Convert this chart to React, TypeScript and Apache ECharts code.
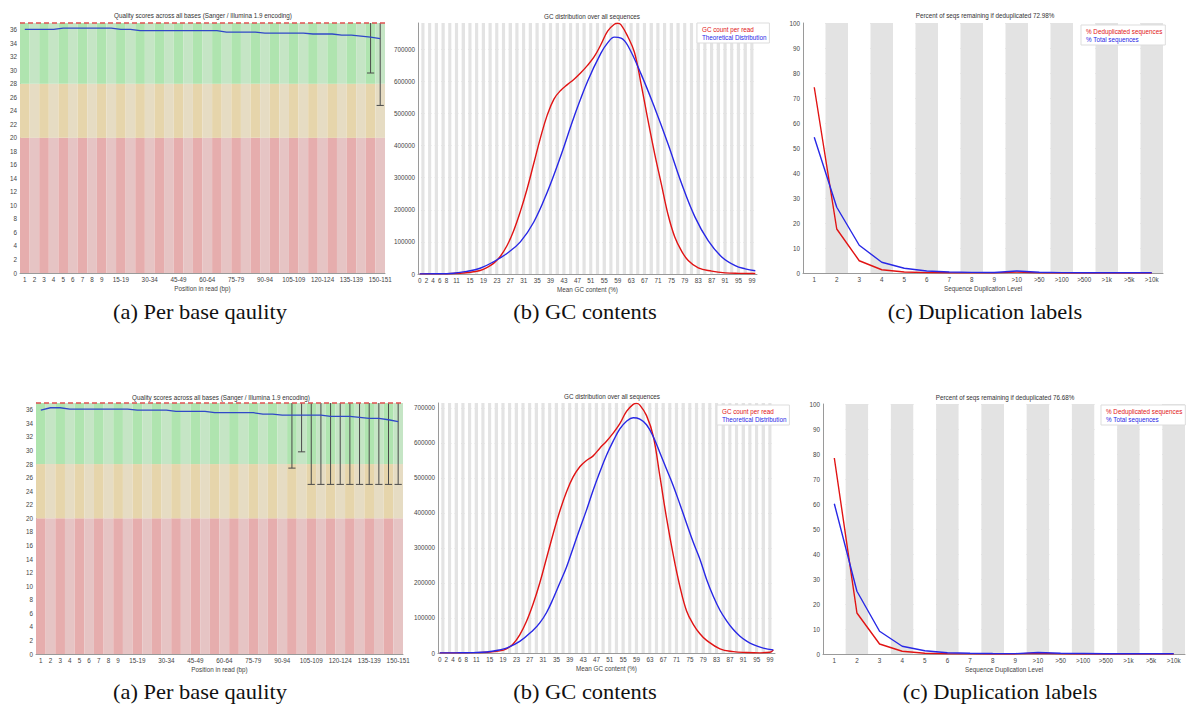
import React, { useEffect, useRef } from 'react';
import * as echarts from 'echarts';

// ---------- DATA ----------
const QUAL_CATS = ['1','2','3','4','5','6','7','8','9','10-14','15-19','20-24','25-29','30-34','35-39','40-44','45-49','50-54','55-59','60-64','65-69','70-74','75-79','80-84','85-89','90-94','95-99','100-104','105-109','110-114','115-119','120-124','125-129','130-134','135-139','140-144','145-149','150-151'];
const QUAL_ZONES = [20, 28, 37]; // red up to 20, orange up to 28, green up to 37

const Q1_MEAN = [36.05,36.05,36.05,36.05,36.25,36.25,36.25,36.25,36.25,36.25,36.05,36.05,35.86,35.86,35.86,35.86,35.86,35.86,35.86,35.86,35.86,35.66,35.66,35.66,35.66,35.51,35.51,35.51,35.51,35.51,35.37,35.37,35.37,35.22,35.22,35.07,34.92,34.68];
const Q1_WHISKERS = [[36, 29.6, 37], [37, 24.8, 37]];

const Q2_MEAN = [35.96,36.3,36.3,36.1,36.1,36.1,36.1,36.1,36.1,36.1,35.96,35.96,35.96,35.96,35.76,35.76,35.76,35.76,35.57,35.57,35.57,35.57,35.57,35.37,35.37,35.22,35.22,35.22,35.22,35.22,35.02,35.02,35.02,34.88,34.73,34.73,34.53,34.24];
const Q2_WHISKERS = [[26, 27.4, 37], [27, 29.8, 37], [28, 25, 37], [29, 25, 37], [30, 25, 37], [31, 25, 37], [32, 25, 37], [33, 25, 37], [34, 25, 37], [35, 25, 37], [36, 25, 37], [37, 25, 37]];

const GC_CATS = Array.from({ length: 101 }, (_, i) => String(i));
const GC1_COUNT = [[0,500],[5,800],[10,1500],[14,4000],[16,7000],[18,11000],[20,20000],[22,33000],[24,55000],[26,88000],[28,135000],[30,195000],[32,265000],[34,345000],[36,425000],[38,495000],[40,545000],[42,572000],[44,590000],[46,607000],[48,627000],[50,650000],[52,677000],[54,715000],[56,757000],[58,778000],[59,781000],[60,776000],[62,740000],[64,690000],[66,590000],[68,480000],[70,375000],[72,280000],[74,185000],[76,115000],[78,72000],[80,42000],[83,19000],[87,9000],[91,3600],[95,2000],[100,1500]];
const GC1_THEO = [[0,300],[5,600],[10,2500],[14,8000],[18,18000],[22,38000],[26,64000],[30,100000],[34,162000],[38,255000],[42,367000],[46,490000],[50,600000],[54,688000],[56,720000],[58,738000],[60,735000],[62,712000],[66,622000],[70,518000],[74,405000],[78,283000],[82,178000],[86,103000],[90,53000],[94,26000],[97,16000],[100,10000]];
const GC2_COUNT = [[0,300],[5,500],[10,1000],[14,2000],[18,6000],[20,12000],[22,26000],[24,52000],[26,90000],[28,140000],[30,200000],[32,270000],[34,340000],[36,405000],[38,460000],[40,503000],[42,532000],[44,550000],[46,563000],[48,585000],[50,605000],[52,628000],[54,655000],[56,690000],[58,710000],[59,713000],[60,708000],[62,678000],[64,620000],[66,505000],[68,385000],[70,280000],[72,190000],[74,120000],[76,82000],[78,55000],[80,36000],[84,12000],[88,4000],[92,1500],[96,500],[99,2000],[100,9000]];
const GC2_THEO = [[0,300],[5,500],[10,1200],[14,3000],[18,9000],[20,14000],[24,33000],[28,65000],[30,86000],[32,115000],[34,155000],[36,200000],[38,245000],[40,300000],[42,355000],[44,408000],[46,465000],[48,517000],[50,565000],[52,605000],[54,640000],[56,662000],[58,672000],[60,668000],[62,652000],[64,618000],[66,572000],[68,525000],[70,478000],[72,425000],[74,370000],[76,316000],[78,268000],[80,210000],[82,162000],[84,122000],[86,92000],[88,67000],[90,48000],[92,34000],[94,24000],[97,14000],[100,9000]];
const GC1_MAX = 782000;
const GC2_MAX = 714000;

const DUP_CATS = ['1','2','3','4','5','6','7','8','9','>10','>50','>100','>500','>1k','>5k','>10k'];
const DUP1_DEDUP = [74.3,17.6,4.9,1.3,0.4,0.15,0.08,0.05,0.04,0.35,0.05,0.02,0.01,0.01,0.01,0.01];
const DUP1_TOTAL = [54.3,26.3,11.1,4.3,1.9,0.8,0.4,0.25,0.2,0.8,0.3,0.15,0.1,0.1,0.1,0.1];
const DUP2_DEDUP = [78.4,16.4,4.0,1.1,0.3,0.1,0.05,0.03,0.03,0.3,0.05,0.02,0.01,0.01,0.01,0.01];
const DUP2_TOTAL = [60.1,25.1,9.1,3.1,1.3,0.5,0.3,0.2,0.15,0.6,0.3,0.2,0.1,0.1,0.1,0.1];

const TITLES = [
  'Quality scores across all bases (Sanger / Illumina 1.9 encoding)',
  'GC distribution over all sequences',
  'Percent of seqs remaining if deduplicated 72.98%',
  'Quality scores across all bases (Sanger / Illumina 1.9 encoding)',
  'GC distribution over all sequences',
  'Percent of seqs remaining if deduplicated 76.68%',
];
const CAPTIONS = ['(a) Per base qaulity', '(b) GC contents', '(c) Duplication labels'];

// ---------- STYLE ----------
const FONT = 'Liberation Sans, Arial, sans-serif';
const SMALL = 6.3;
const LABEL_COLOR = '#444';
const RED = 'rgb(225,20,20)';
const BLUE = 'rgb(40,40,230)';
const ZONE_COLORS = [
  ['#e6adad', '#e6c4c4'],
  ['#e6d5ab', '#e6dcc3'],
  ['#afe4af', '#c5e5c5'],
];

const GRIDS = [
  { left: 20, top: 23, width: 365, height: 250 },
  { left: 418, top: 23, width: 339, height: 251 },
  { left: 803, top: 23, width: 360, height: 250 },
  { left: 36, top: 403, width: 367, height: 251 },
  { left: 438, top: 403, width: 337, height: 250 },
  { left: 823, top: 404, width: 362, height: 250 },
];

const TITLE_POS = [[203, 15], [592, 16], [985, 15], [221, 397], [612, 396], [1005, 397]];
const CAPTION_POS = [[200, 312], [585, 312], [985, 312], [200, 692], [585, 692], [1000, 692]];

const labelStyle = { fontSize: SMALL, color: LABEL_COLOR, fontFamily: FONT, margin: 3 };
const nameStyle = { fontSize: SMALL, color: LABEL_COLOR, fontFamily: FONT };
const axisLine = { show: true, lineStyle: { color: '#9a9a9a', width: 1 } };

function qualX(gi: number) {
  return {
    type: 'category', gridIndex: gi, data: QUAL_CATS, boundaryGap: true,
    axisTick: { show: false }, axisLine,
    axisLabel: { ...labelStyle, interval: (i: number) => i < 9 || (i >= 10 && (i - 10) % 3 === 0) },
    name: 'Position in read (bp)', nameLocation: 'middle', nameGap: 12, nameTextStyle: nameStyle,
  };
}
function qualY(gi: number) {
  return {
    type: 'value', gridIndex: gi, min: 0, max: QUAL_ZONES[2], interval: 2,
    axisTick: { show: false }, axisLine, splitLine: { show: false },
    axisLabel: { ...labelStyle, formatter: (v: number) => (v % 2 === 0 && v <= 36 ? String(v) : '') },
  };
}
function gcX(gi: number) {
  return {
    type: 'category', gridIndex: gi, data: GC_CATS, boundaryGap: true,
    axisTick: { show: false }, axisLine,
    splitArea: { show: true, interval: 0, areaStyle: { color: ['#ffffff', '#e3e3e3'] } },
    axisLabel: { ...labelStyle, interval: (i: number) => (i <= 8 && i % 2 === 0) || (i >= 11 && i <= 99 && (i - 11) % 4 === 0) },
    name: 'Mean GC content (%)', nameLocation: 'middle', nameGap: 12, nameTextStyle: nameStyle,
  };
}
function gcY(gi: number, max: number) {
  return {
    type: 'value', gridIndex: gi, min: 0, max, interval: 100000,
    axisTick: { show: false }, axisLine,
    splitLine: { show: true, showMaxLine: false, lineStyle: { color: '#cfcfcf', width: 1 } },
    axisLabel: { ...labelStyle, formatter: (v: number) => (v % 100000 === 0 ? String(v) : '') },
  };
}
function dupX(gi: number) {
  return {
    type: 'category', gridIndex: gi, data: DUP_CATS, boundaryGap: true,
    axisTick: { show: false }, axisLine,
    splitArea: { show: true, interval: 0, areaStyle: { color: ['#ffffff', '#e3e3e3'] } },
    axisLabel: { ...labelStyle, interval: 0 },
    name: 'Sequence Duplication Level', nameLocation: 'middle', nameGap: 12, nameTextStyle: nameStyle,
  };
}
function dupY(gi: number) {
  return {
    type: 'value', gridIndex: gi, min: 0, max: 100, interval: 10,
    axisTick: { show: false }, axisLine,
    splitLine: { show: true, lineStyle: { color: '#cfcfcf', width: 1 } },
    axisLabel: { ...labelStyle },
  };
}

function zoneSeries(gi: number) {
  const sizes = [QUAL_ZONES[0], QUAL_ZONES[1] - QUAL_ZONES[0], QUAL_ZONES[2] - QUAL_ZONES[1]];
  return sizes.map((s, z) => ({
    type: 'bar', name: `zone${gi}_${z}`, xAxisIndex: gi, yAxisIndex: gi, stack: `q${gi}`,
    barCategoryGap: '0%', silent: true,
    data: QUAL_CATS.map(() => s),
    itemStyle: { color: (p: any) => ZONE_COLORS[z][p.dataIndex % 2] },
  }));
}
function qualSeries(gi: number, mean: number[], whiskers: number[][]) {
  return [
    ...zoneSeries(gi),
    {
      type: 'custom', name: `whisk${gi}`, xAxisIndex: gi, yAxisIndex: gi, silent: true, z: 4,
      data: whiskers, encode: { x: 0, y: [1, 2] },
      renderItem: (params: any, api: any) => {
        const lo = api.coord([api.value(0), api.value(1)]);
        const hi = api.coord([api.value(0), api.value(2)]);
        const w = api.size([1, 0])[0] * 0.75;
        const st = { stroke: '#4a4a4a', lineWidth: 1 };
        return {
          type: 'group', children: [
            { type: 'line', shape: { x1: lo[0], y1: lo[1], x2: hi[0], y2: hi[1] }, style: st },
            { type: 'line', shape: { x1: lo[0] - w / 2, y1: lo[1], x2: lo[0] + w / 2, y2: lo[1] }, style: st },
          ],
        };
      },
    },
    {
      type: 'line', name: `mean${gi}`, xAxisIndex: gi, yAxisIndex: gi, data: mean, z: 5,
      showSymbol: false, symbol: 'none', lineStyle: { color: '#3048c8', width: 1.3 }, itemStyle: { color: '#3048c8' },
      markLine: {
        silent: true, symbol: 'none', label: { show: false },
        lineStyle: { color: '#e05050', type: [5, 3], width: 1.5 },
        data: [{ yAxis: QUAL_ZONES[2] }],
      },
    },
  ];
}
function lineSeries(gi: number, name: string, data: any[], color: string, smooth: number | boolean) {
  return {
    type: 'line', name, xAxisIndex: gi, yAxisIndex: gi, data, smooth,
    showSymbol: false, symbol: 'none', lineStyle: { color, width: 1.4 }, itemStyle: { color },
  };
}
function legend(left: number, top: number, names: string[]) {
  return {
    left, top, orient: 'vertical', itemWidth: 0, itemHeight: 6, itemGap: 2, icon: 'rect',
    selectedMode: false, backgroundColor: '#ffffff', borderColor: '#dddddd', borderWidth: 1,
    padding: [3, 3, 3, 0],
    textStyle: { fontSize: SMALL, fontFamily: FONT },
    data: [
      { name: names[0], textStyle: { color: RED } },
      { name: names[1], textStyle: { color: BLUE } },
    ],
  };
}

export default function App() {
  const ref = useRef<HTMLDivElement>(null);
  useEffect(() => {
    if (!ref.current) return;
    const chart = echarts.init(ref.current, undefined, { renderer: 'svg' });
    const gcNames = ['GC count per read', 'Theoretical Distribution'];
    const dupNames = ['% Deduplicated sequences', '% Total sequences'];
    const graphic: any[] = [];
    TITLES.forEach((t, i) => graphic.push({
      type: 'text', x: TITLE_POS[i][0], y: TITLE_POS[i][1], silent: true,
      style: { text: t, fontSize: SMALL, fontFamily: FONT, fill: '#333', textAlign: 'center', textVerticalAlign: 'middle' },
    }));
    CAPTION_POS.forEach((p, i) => graphic.push({
      type: 'text', x: p[0], y: p[1], scaleX: 1.07, silent: true,
      style: { text: CAPTIONS[i % 3], fontSize: 21, fontFamily: 'Liberation Serif, Times New Roman, serif', fill: '#111', textAlign: 'center', textVerticalAlign: 'middle' },
    }));

    chart.setOption({
      animation: false,
      backgroundColor: '#ffffff',
      grid: GRIDS,
      xAxis: [qualX(0), gcX(1), dupX(2), qualX(3), gcX(4), dupX(5)],
      yAxis: [qualY(0), gcY(1, GC1_MAX), dupY(2), qualY(3), gcY(4, GC2_MAX), dupY(5)],
      legend: [
        legend(697, 23, gcNames),
        legend(1081, 25, dupNames),
        legend(717, 405, gcNames),
        legend(1101, 405, dupNames),
      ],
      graphic,
      series: [
        ...qualSeries(0, Q1_MEAN, Q1_WHISKERS),
        lineSeries(1, gcNames[0], GC1_COUNT, RED, 0.4),
        lineSeries(1, gcNames[1], GC1_THEO, BLUE, 0.4),
        lineSeries(2, dupNames[0], DUP1_DEDUP, RED, false),
        lineSeries(2, dupNames[1], DUP1_TOTAL, BLUE, false),
        ...qualSeries(3, Q2_MEAN, Q2_WHISKERS),
        lineSeries(4, gcNames[0], GC2_COUNT, RED, 0.4),
        lineSeries(4, gcNames[1], GC2_THEO, BLUE, 0.4),
        lineSeries(5, dupNames[0], DUP2_DEDUP, RED, false),
        lineSeries(5, dupNames[1], DUP2_TOTAL, BLUE, false),
      ],
    });
    return () => chart.dispose();
  }, []);
  return <div ref={ref} style={{ position: 'absolute', left: 0, top: 0, width: 1194, height: 709 }} />;
}
